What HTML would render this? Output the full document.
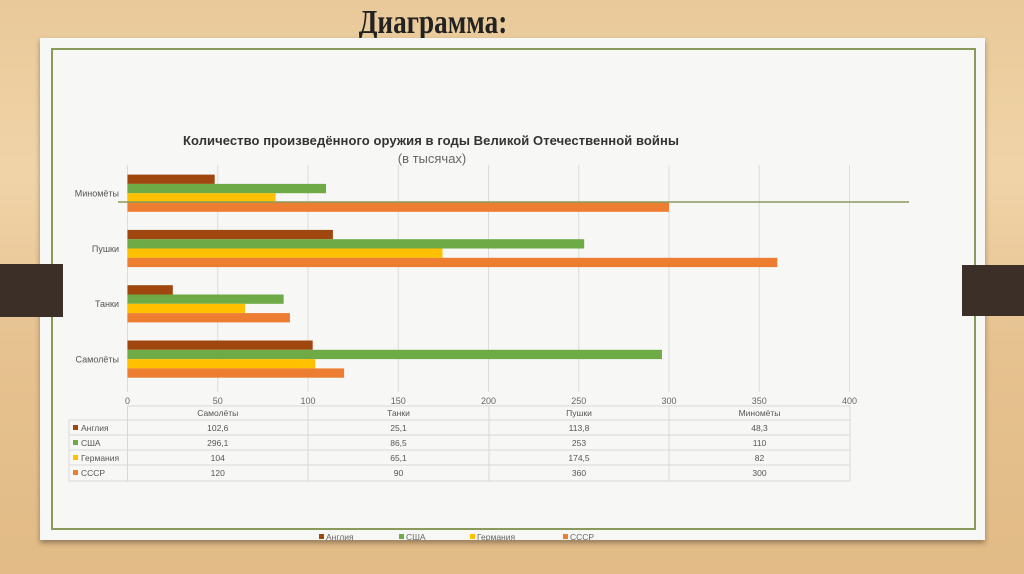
<!DOCTYPE html>
<html><head><meta charset="utf-8">
<style>
html,body{margin:0;padding:0;}
body{width:1024px;height:574px;position:relative;overflow:hidden;
background:linear-gradient(180deg,#e9c999 0%,#f0d4a8 30%,#e6c290 60%,#e2bb86 100%);
font-family:"Liberation Sans","DejaVu Sans",sans-serif;}
.abs{position:absolute;}
</style></head>
<body>
<div class="abs" style="left:283px;top:4px;width:300px;text-align:center;font-family:'Liberation Serif',serif;font-weight:bold;font-size:34px;color:#222;transform:scaleX(0.8);">Диаграмма:</div>
<div class="abs" style="left:40px;top:38px;width:945px;height:502px;background:#f7f7f6;box-shadow:0 3px 5px rgba(0,0,0,0.35);"></div>
<div class="abs" style="left:51px;top:48px;width:921px;height:478px;border:2px solid #8a9a5b;"></div>
<div class="abs" style="left:0;top:264px;width:63px;height:53px;background:#3b2f27;"></div>
<div class="abs" style="left:962px;top:265px;width:62px;height:51px;background:#3b2f27;"></div>
<svg class="abs" style="left:0;top:0" width="1024" height="574" id="chart"></svg>
<script>
const categories=["Самолёты","Танки","Пушки","Миномёты"];
const seriesNames=["Англия","США","Германия","СССР"];
const seriesColors=["#a0470f","#6eaa45","#ffc000","#ed7d31"];
const england=[102.6,25.1,113.8,48.3];
const usa=[296.1,86.5,253,110];
const germany=[104,65.1,174.5,82];
const ussr=[120,90,360,300];
const tableLabels=[["102,6","25,1","113,8","48,3"],["296,1","86,5","253","110"],["104","65,1","174,5","82"],["120","90","360","300"]];
const ticks=[0,50,100,150,200,250,300,350,400];
const series=[england,usa,germany,ussr];
const svg=document.getElementById('chart');
const NS='http://www.w3.org/2000/svg';
function xs(v){return 127.5+v*1.805;}
function groupTop(ci){return 340.5-ci*55.3;}
function mk(tag,at,txt){const e=document.createElementNS(NS,tag);for(const k in at)e.setAttribute(k,at[k]);if(txt!==undefined)e.textContent=txt;svg.appendChild(e);return e;}
let e;
e=mk('text',{x:431,y:145,'text-anchor':'middle','font-size':13,'font-weight':'bold',fill:'#333',textLength:496});
e.textContent='Количество произведённого оружия в годы Великой Отечественной войны';


e=mk('text',{x:432,y:163,'text-anchor':'middle','font-size':13,fill:'#666'},'(в тысячах)');


ticks.forEach(t=>{
 e=mk('line',{x1:xs(t),x2:xs(t),y1:165,y2:392,stroke:'#dcdcdc','stroke-width':1});
 
 
 e=mk('text',{x:xs(t),y:404,'text-anchor':'middle','font-size':9,fill:'#666'},String(t));
 
 
});
categories.forEach((c,ci)=>{
 const top=groupTop(ci);
 series.forEach((s,si)=>{
  e=mk('rect',{x:xs(0),y:top+si*9.3,width:xs(s[ci])-xs(0),height:9.3,fill:seriesColors[si]});
  
  
 });
 e=mk('text',{x:119,y:top+22,'text-anchor':'end','font-size':9,fill:'#555'},c);
 
 
});
e=mk('line',{x1:118,x2:909,y1:202,y2:202,stroke:'#8a9a5b','stroke-width':1.5});


const colX=[127.5,308,489,669,850];
const rowY=[406,420,435,450,465,481];
const tc='#d8d8d8';
for(let i=0;i<colX.length;i++){mk('line',{x1:colX[i],x2:colX[i],y1:406,y2:481,stroke:tc});}
mk('line',{x1:69,x2:69,y1:420,y2:481,stroke:tc});
rowY.forEach((y,i)=>{mk('line',{x1:i==0?127.5:69,x2:850,y1:y,y2:y,stroke:tc});});
categories.forEach((c,ci)=>{
 e=mk('text',{x:(colX[ci]+colX[ci+1])/2,y:416,'text-anchor':'middle','font-size':8.5,fill:'#555'},c);
 
 
});
seriesNames.forEach((n,si)=>{
 const y=rowY[si+1];
 mk('rect',{x:73,y:y+5,width:5,height:5,fill:seriesColors[si]});
 e=mk('text',{x:81,y:y+11,'font-size':8.5,fill:'#555'},n);
 
 
 tableLabels[si].forEach((v,ci)=>{mk('text',{x:(colX[ci]+colX[ci+1])/2,y:y+11,'text-anchor':'middle','font-size':8.5,fill:'#555'},v);});
});
const legX=[319,399,470,563];
seriesNames.forEach((n,si)=>{
 mk('rect',{x:legX[si],y:534,width:5,height:5,fill:seriesColors[si]});
 e=mk('text',{x:legX[si]+7,y:540,'font-size':8.5,fill:'#666'},n);
 
 
});
</script>
</body></html>
